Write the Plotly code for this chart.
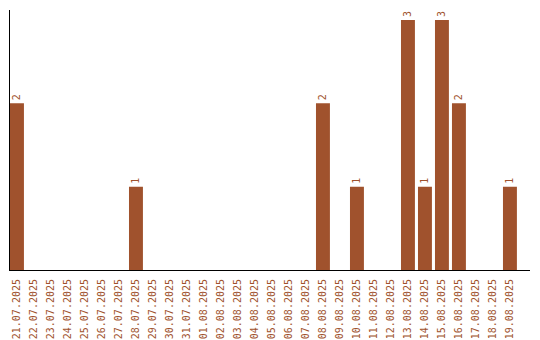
import plotly.graph_objects as go

dates = ["21.07.2025", "22.07.2025", "23.07.2025", "24.07.2025", "25.07.2025",
         "26.07.2025", "27.07.2025", "28.07.2025", "29.07.2025", "30.07.2025",
         "31.07.2025", "01.08.2025", "02.08.2025", "03.08.2025", "04.08.2025",
         "05.08.2025", "06.08.2025", "07.08.2025", "08.08.2025", "09.08.2025",
         "10.08.2025", "11.08.2025", "12.08.2025", "13.08.2025", "14.08.2025",
         "15.08.2025", "16.08.2025", "17.08.2025", "18.08.2025", "19.08.2025"]
counts = [2, 0, 0, 0, 0, 0, 0, 1, 0, 0,
          0, 0, 0, 0, 0, 0, 0, 0, 2, 0,
          1, 0, 0, 3, 1, 3, 2, 0, 0, 1]

color = "#A0522D"
labels = [str(c) if c > 0 else "" for c in counts]

fig = go.Figure(go.Bar(
    x=dates, y=counts, marker=dict(color=color, line=dict(width=0)),
    text=labels, textposition="outside", textangle=-90,
    textfont=dict(family="DejaVu Sans Mono", size=10, color=color),
    cliponaxis=False,
))
fig.update_layout(
    width=540, height=340,
    margin=dict(l=10, r=10, t=10, b=70),
    paper_bgcolor="white", plot_bgcolor="white",
    bargap=0.18, showlegend=False,
    xaxis=dict(type="category", range=[-0.41, 30.18], showline=True, linecolor="black",
               linewidth=1, showgrid=False, tickangle=-90, ticks="outside",
               ticklen=4, tickcolor="rgba(0,0,0,0)", automargin=False,
               tickfont=dict(family="DejaVu Sans Mono", size=10, color=color)),
    yaxis=dict(range=[0, 3.12], showline=True, linecolor="black", linewidth=1,
               showgrid=False, showticklabels=False, ticks="", zeroline=False,
               automargin=False),
)
fig.write_html("out.html")
